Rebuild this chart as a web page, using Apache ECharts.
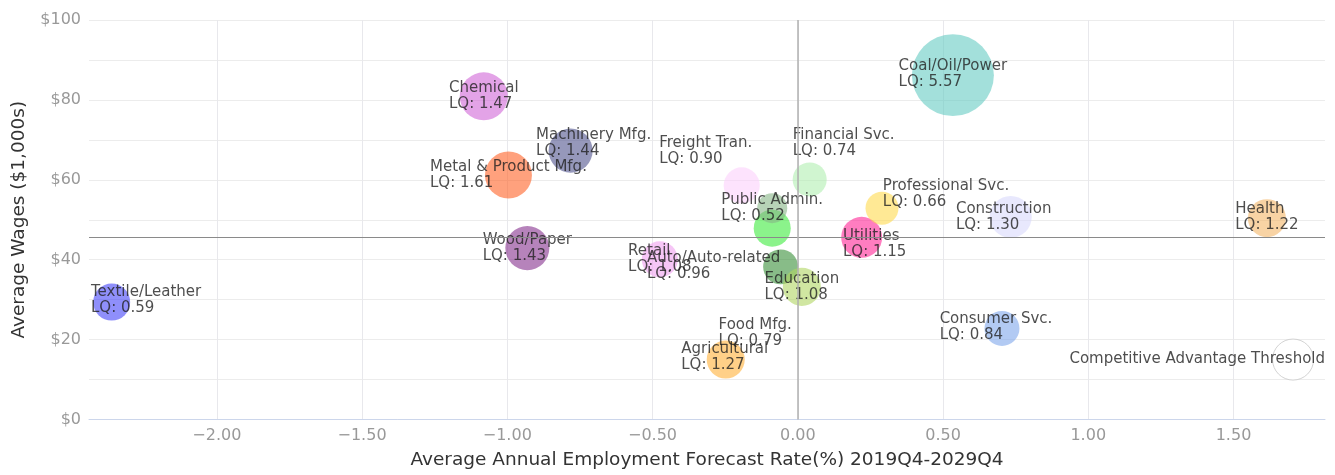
<!DOCTYPE html>
<html>
<head>
<meta charset="utf-8">
<script src="https://cdn.jsdelivr.net/npm/echarts@6/dist/echarts.min.js"></script>
<style>
html,body{margin:0;padding:0;background:#ffffff;}
#chart{width:1335px;height:475px;}
</style>
</head>
<body>
<div id="chart"></div>
<script>
// ---------------- DATA ----------------
const industries = [
  'Textile/Leather', 'Chemical', 'Machinery Mfg.', 'Metal & Product Mfg.', 'Wood/Paper',
  'Freight Tran.', 'Financial Svc.', 'Food Mfg.', 'Public Admin.', 'Retail',
  'Auto/Auto-related', 'Education', 'Agricultural', 'Utilities', 'Professional Svc.',
  'Construction', 'Coal/Oil/Power', 'Health', 'Consumer Svc.', 'Competitive Advantage Threshold'
];
// Average annual employment forecast rate (%), 2019Q4-2029Q4
const growthRates = [
  -2.362, -1.081, -0.782, -0.996, -0.931,
  -0.193, 0.041, -0.088, -0.088, -0.475,
  -0.059, 0.014, -0.248, 0.220, 0.290,
  0.733, 0.534, 1.615, 0.703, 1.705
];
// Average wages ($1,000s)
const avgWages = [
  29.4, 80.9, 67.3, 61.2, 42.9,
  58.6, 60.1, 47.9, 52.9, 40.1,
  38.2, 33.2, 15.0, 45.6, 52.9,
  50.7, 86.2, 50.4, 22.8, 15.0
];
// Location quotients (null = no LQ shown)
const locationQuotients = [
  0.59, 1.47, 1.44, 1.61, 1.43,
  0.90, 0.74, 0.79, 0.52, 1.08,
  0.96, 1.08, 1.27, 1.15, 0.66,
  1.30, 5.57, 1.22, 0.84, null
];
// Bubble size values (relative employment)
const bubbleSizes = [
  21.4, 36.0, 30.3, 34.5, 30.3,
  20.3, 18.1, 21.4, 14.1, 20.3,
  19.1, 22.6, 22.6, 26.3, 17.0,
  27.6, 105.0, 22.6, 19.1, 26.3
];
const wageThreshold = 45.6;   // horizontal reference line
const growthThreshold = 0;    // vertical reference line
const xAxisTitle = 'Average Annual Employment Forecast Rate(%) 2019Q4-2029Q4';
const yAxisTitle = 'Average Wages ($1,000s)';

// ---------------- STYLE ----------------
const FONT = '"DejaVu Sans", "Noto Sans", sans-serif';
const LABEL_FONT_SIZE = 15;
const FILL_ALPHA = 0.75;
const colors = {
  'Textile/Leather': '#4444f8', 'Chemical': '#d066d7', 'Machinery Mfg.': '#50538e',
  'Metal & Product Mfg.': '#ff6326', 'Wood/Paper': '#86308e', 'Freight Tran.': '#fbd0fb',
  'Financial Svc.': '#b0eeb0', 'Food Mfg.': '#3eeb3e', 'Public Admin.': '#87b687',
  'Retail': '#f0a0f0', 'Auto/Auto-related': '#388f38', 'Education': '#b0d663',
  'Agricultural': '#ffb038', 'Utilities': '#ff2696', 'Professional Svc.': '#ffdb4e',
  'Construction': '#d9d9fb', 'Coal/Oil/Power': '#66cbc3', 'Health': '#f3b668',
  'Consumer Svc.': '#7ea6eb'
};
// label box centre offset from bubble centre, px
const labelShift = {
  'Machinery Mfg.': [23, -8], 'Freight Tran.': [-36, -34], 'Financial Svc.': [34, -36],
  'Auto/Auto-related': [-67, -1], 'Food Mfg.': [-17, 105], 'Utilities': [13, 7],
  'Professional Svc.': [64, -14], 'Construction': [-7, 0], 'Consumer Svc.': [-6, -1],
  'Agricultural': [-1, -2], 'Coal/Oil/Power': [0, -1], 'Health': [0, -1],
  'Textile/Leather': [0, -2]
};

function rgba(hex, a) {
  const n = parseInt(hex.slice(1), 16);
  return 'rgba(' + ((n >> 16) & 255) + ',' + ((n >> 8) & 255) + ',' + (n & 255) + ',' + a + ')';
}

const canvas = document.createElement('canvas');
const ctx = canvas.getContext('2d');
ctx.font = LABEL_FONT_SIZE + 'px ' + FONT;

function labelText(i) {
  const lq = locationQuotients[i];
  return lq == null ? industries[i] : industries[i] + '\nLQ: ' + lq.toFixed(2);
}
function labelWidth(i) {
  return Math.max.apply(null, labelText(i).split('\n').map(s => ctx.measureText(s).width));
}

const GRID = {left: 89, right: 10, top: 20, bottom: 54};
const W = 1335, H = 475;

const chart = echarts.init(document.getElementById('chart'), null, {renderer: 'canvas'});

function buildData(pixelFn) {
  return industries.map((name, i) => {
    const w = labelWidth(i);
    const sh = labelShift[name] || [0, 0];
    let dx = sh[0] - w / 2;
    if (pixelFn) {
      const p = pixelFn(i);
      const left = p[0] + dx;
      if (left < GRID.left + 2) dx = GRID.left + 2 - p[0];
      if (left + w > W - GRID.right) dx = W - GRID.right - w - p[0];
    }
    const isThreshold = locationQuotients[i] == null;
    return {
      name: name,
      value: [growthRates[i], avgWages[i], bubbleSizes[i]],
      itemStyle: isThreshold
        ? {color: '#ffffff', borderColor: '#c8c8c8', borderWidth: 1}
        : {color: rgba(colors[name], FILL_ALPHA)},
      label: {
        show: true,
        position: 'inside',
        align: 'left',
        verticalAlign: 'middle',
        offset: [dx, sh[1]],
        formatter: labelText(i),
        color: '#222222',
        fontSize: LABEL_FONT_SIZE,
        lineHeight: 16,
        fontFamily: FONT
      }
    };
  });
}

const option = {
  animation: false,
  backgroundColor: '#ffffff',
  grid: {left: GRID.left, right: GRID.right, top: GRID.top, bottom: GRID.bottom, containLabel: false},
  xAxis: {
    type: 'value',
    min: -2.44, max: 1.815,
    splitNumber: 8, minInterval: 0.5, maxInterval: 0.5,
    axisLine: {show: true, onZero: false, lineStyle: {color: '#ccd6eb', width: 1}},
    axisTick: {show: false},
    axisLabel: {
      color: '#999999', fontSize: 16, fontFamily: FONT, margin: 8,
      showMinLabel: false, showMaxLabel: false,
      formatter: v => (v < 0 ? '\u2212' : '') + Math.abs(v).toFixed(2)
    },
    splitLine: {show: true, showMinLine: false, showMaxLine: false, lineStyle: {color: '#e8e8ec', width: 1}},
    name: xAxisTitle, nameLocation: 'middle', nameGap: 41,
    nameTextStyle: {color: '#333333', fontSize: 18.5, fontFamily: FONT, verticalAlign: 'middle'}
  },
  yAxis: {
    type: 'value',
    min: 0, max: 100, interval: 10,
    axisLine: {show: false},
    axisTick: {show: false},
    axisLabel: {
      color: '#999999', fontSize: 16, fontFamily: FONT, margin: 8,
      padding: [0, 0, 6, 0],
      formatter: v => (v % 20 === 0 ? '$' + v : '')
    },
    splitLine: {show: true, lineStyle: {color: '#ececec', width: 1}},
    name: yAxisTitle, nameLocation: 'middle', nameGap: 70, nameRotate: 90,
    nameTextStyle: {color: '#333333', fontSize: 18.5, fontFamily: FONT, verticalAlign: 'middle'}
  },
  series: [
    {
      type: 'line',
      data: [],
      z: 1,
      silent: true,
      markLine: {
        silent: true,
        symbol: 'none',
        animation: false,
        label: {show: false},
        emphasis: {disabled: true},
        data: [
          {yAxis: wageThreshold, lineStyle: {color: '#8a8a8a', width: 1, type: 'solid'}},
          {xAxis: growthThreshold, lineStyle: {color: '#b0b0b0', width: 1.5, type: 'solid'}}
        ]
      }
    },
    {
      type: 'scatter',
      z: 2,
      silent: true,
      emphasis: {disabled: true},
      symbolSize: v => 8 * Math.sqrt(v[2]),
      data: buildData(null)
    }
  ]
};

chart.setOption(option);
const px = i => chart.convertToPixel({gridIndex: 0}, [growthRates[i], avgWages[i]]);
chart.setOption({series: [{}, {data: buildData(px)}]});
</script>
</body>
</html>
